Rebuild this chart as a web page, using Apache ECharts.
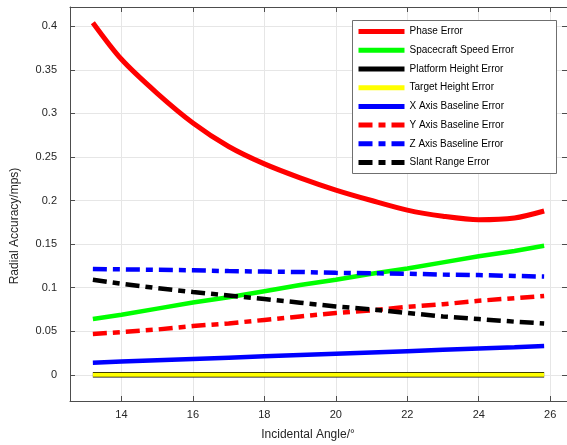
<!DOCTYPE html>
<html>
<head>
<meta charset="utf-8">
<script src="https://cdn.jsdelivr.net/npm/echarts@6/dist/echarts.min.js"></script>
<style>
  html, body { margin: 0; padding: 0; background: #fff; }
  #chart { width: 567px; height: 445px; }
</style>
</head>
<body>
<div id="chart"></div>
<script>
// incidental angle samples (deg)
var angles = [13.2, 14, 15, 16, 17, 18, 19, 20, 21, 22, 23, 24, 25, 25.83];

// radial accuracy (m/s)
var phaseErr    = [0.404, 0.362, 0.323, 0.289, 0.262, 0.242, 0.226, 0.212, 0.200, 0.189, 0.182, 0.178, 0.180, 0.188];
var speedErr    = [0.064, 0.069, 0.076, 0.083, 0.089, 0.096, 0.103, 0.109, 0.116, 0.122, 0.129, 0.136, 0.142, 0.148];
var platformErr = [0, 0, 0, 0, 0, 0, 0, 0, 0, 0, 0, 0, 0, 0];
var targetErr   = [0, 0, 0, 0, 0, 0, 0, 0, 0, 0, 0, 0, 0, 0];
var xBaseErr    = [0.014, 0.0152, 0.0167, 0.0182, 0.0197, 0.0212, 0.0227, 0.0242, 0.0257, 0.0272, 0.0287, 0.0302, 0.0317, 0.033];
var yBaseErr    = [0.047, 0.049, 0.052, 0.056, 0.059, 0.063, 0.067, 0.071, 0.074, 0.078, 0.081, 0.085, 0.088, 0.0905];
var zBaseErr    = [0.1215, 0.121, 0.1205, 0.120, 0.119, 0.1185, 0.118, 0.117, 0.1165, 0.116, 0.115, 0.1145, 0.1135, 0.1127];
var slantErr    = [0.109, 0.1045, 0.0995, 0.095, 0.091, 0.087, 0.0828, 0.0785, 0.075, 0.071, 0.067, 0.064, 0.061, 0.059];

// tick labels
var xTicks = [14, 16, 18, 20, 22, 24, 26];
var yTicks = [0, 0.05, 0.1, 0.15, 0.2, 0.25, 0.3, 0.35, 0.4];

var xMin = 12.56, xMax = 26.47;
var yMin = -0.03, yMax = 0.422;

function pairs(vals) {
    return angles.map(function (a, i) { return [a, vals[i]]; });
}

function mkSeries(name, vals, color, width, dash) {
    return {
        name: name,
        type: 'line',
        data: pairs(vals),
        symbol: 'none',
        smooth: name === 'Phase Error' ? 0.3 : false,
        lineStyle: { color: color, width: width, type: dash },
        itemStyle: { color: color }
    };
}

var axisCol = '#4d4d4d';
var gridCol = '#e6e6e6';
var txtCol = '#262626';
var font = 'Liberation Sans';
var dashDot = [14, 6, 7, 6];

var my_chart = echarts.init(document.getElementById('chart'));

var option = {
    animation: false,
    grid: { left: 70, right: 0, top: 7, bottom: 44 },
    xAxis: [{
        type: 'value',
        min: xMin,
        max: xMax,
        position: 'bottom',
        axisLine: { show: true, onZero: false, lineStyle: { color: axisCol, width: 1 } },
        axisTick: { show: true, inside: true, length: 5, customValues: xTicks, lineStyle: { color: axisCol } },
        axisLabel: { customValues: xTicks, color: txtCol, fontSize: 11, fontFamily: font, margin: 8 },
        splitLine: { show: true, lineStyle: { color: gridCol, width: 1 } }
    }, {
        type: 'value',
        min: xMin,
        max: xMax,
        position: 'top',
        axisLine: { show: true, onZero: false, lineStyle: { color: axisCol, width: 1 } },
        axisTick: { show: true, inside: true, length: 5, customValues: xTicks, lineStyle: { color: axisCol } },
        axisLabel: { show: false },
        splitLine: { show: false }
    }],
    yAxis: [{
        type: 'value',
        min: yMin,
        max: yMax,
        position: 'left',
        axisLine: { show: true, onZero: false, lineStyle: { color: axisCol, width: 1 } },
        axisTick: { show: true, inside: true, length: 5, customValues: yTicks, lineStyle: { color: axisCol } },
        axisLabel: { customValues: yTicks, color: txtCol, fontSize: 11, fontFamily: font, margin: 13 },
        splitLine: { show: true, lineStyle: { color: gridCol, width: 1 } }
    }, {
        type: 'value',
        min: yMin,
        max: yMax,
        position: 'right',
        axisLine: { show: false },
        axisTick: { show: true, inside: true, length: 5, customValues: yTicks, lineStyle: { color: axisCol } },
        axisLabel: { show: false },
        splitLine: { show: false }
    }],
    legend: {
        orient: 'vertical',
        left: 352,
        top: 20,
        padding: [6, 5, 6, 4],
        itemWidth: 46,
        itemHeight: 14,
        itemGap: 7.5,
        itemStyle: { opacity: 0 },
        lineStyle: { width: 5 },
        textStyle: { color: '#000', fontSize: 10, fontFamily: font },
        data: ['Phase Error', 'Spacecraft Speed Error', 'Platform Height Error', 'Target Height Error',
               'X Axis Baseline Error', 'Y Axis Baseline Error', 'Z Axis Baseline Error', 'Slant Range Error']
    },
    graphic: [{
        type: 'rect',
        z: 3,
        shape: { x: 352.5, y: 20.5, width: 204, height: 153 },
        style: { fill: '#fff', stroke: '#6f6f6f', lineWidth: 1 }
    }, {
        type: 'text',
        x: 308,
        y: 435,
        style: { text: 'Incidental Angle/°', fill: txtCol, font: '12px "Liberation Sans"', align: 'center', verticalAlign: 'middle' }
    }, {
        type: 'text',
        x: 15,
        y: 226,
        rotation: Math.PI / 2,
        style: { text: 'Radial Accuracy/mps)', fill: txtCol, font: '12px "Liberation Sans"', align: 'center', verticalAlign: 'middle' }
    }],
    series: [
        mkSeries('Phase Error', phaseErr, '#ff0000', 5, 'solid'),
        mkSeries('Spacecraft Speed Error', speedErr, '#00ff00', 4.5, 'solid'),
        mkSeries('Platform Height Error', platformErr, '#000000', 5.5, 'solid'),
        mkSeries('Target Height Error', targetErr, '#ffff00', 4, 'solid'),
        mkSeries('X Axis Baseline Error', xBaseErr, '#0000ff', 4.5, 'solid'),
        mkSeries('Y Axis Baseline Error', yBaseErr, '#ff0000', 4.5, dashDot),
        mkSeries('Z Axis Baseline Error', zBaseErr, '#0000ff', 4.5, dashDot),
        mkSeries('Slant Range Error', slantErr, '#000000', 4.5, dashDot)
    ]
};

my_chart.setOption(option);
</script>
</body>
</html>
